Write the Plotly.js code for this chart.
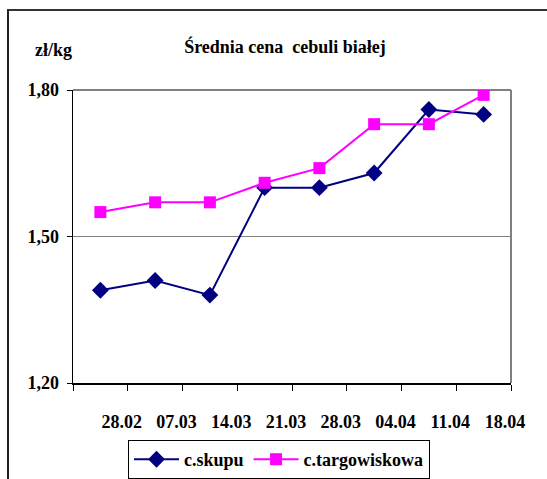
<!DOCTYPE html>
<html>
<head>
<meta charset="utf-8">
<script src="https://cdn.plot.ly/plotly-3.0.1.min.js"></script>
<style>
html,body{margin:0;padding:0;background:#fff;overflow:hidden;}
#wrap{position:relative;width:547px;height:479px;}
#frame{position:absolute;left:7px;top:9px;width:600px;height:600px;border-left:2px solid #222;border-top:2px solid #333;pointer-events:none;}
#chart{position:absolute;left:0;top:0;width:547px;height:479px;}
#preload{position:absolute;left:0;top:0;color:#fff;font-family:'Liberation Serif';font-weight:bold;font-size:18px;}
</style>
</head>
<body>
<div id="wrap"><div id="preload">Średnia zł/kg 28.02 1,80</div><div id="chart"></div><div id="frame"></div></div>
<script>
var categories = ['28.02','07.03','14.03','21.03','28.03','04.04','11.04','18.04'];
var skupu = [1.39, 1.41, 1.38, 1.60, 1.60, 1.63, 1.76, 1.75];
var targowiskowa = [1.55, 1.57, 1.57, 1.61, 1.64, 1.73, 1.73, 1.79];
var yTicks = [1.20, 1.50, 1.80];
var yTickText = ['1,20', '1,50', '1,80'];

function bold(s){ return s ? '<b>' + s + '</b>' : ''; }
var xPos = categories.map(function(c, i){ return i + 0.5; });
var boundaries = [0].concat(categories.map(function(c, i){ return i + 1; }));
var boundaryText = [''].concat(categories).map(bold);

var F = 'Liberation Serif';
var L = 73, R = 511, T = 90, B = 383, W = 547, H = 479;
function px(x){ return (x - L) / (R - L); }
function py(y){ return (B - y) / (B - T); }

var traces = [
  {x: xPos, y: skupu, name: bold('c.skupu'), type: 'scatter', mode: 'lines+markers',
   line: {color: '#000080', width: 2}, marker: {symbol: 'diamond', size: 13, color: '#000080'}},
  {x: xPos, y: targowiskowa, name: bold('c.targowiskowa'), type: 'scatter', mode: 'lines+markers',
   line: {color: '#FF00FF', width: 2}, marker: {symbol: 'square', size: 12, color: '#FF00FF'}}
];

var layout = {
  width: W, height: H,
  margin: {l: L, r: W - R, t: T, b: H - B, pad: 0, autoexpand: false},
  paper_bgcolor: 'rgba(0,0,0,0)', plot_bgcolor: '#fff',
  showlegend: true,
  font: {family: F, color: '#000', size: 18},
  title: {text: '<b>Średnia cena \u00a0cebuli białej</b>', font: {family: F, size: 18, color: '#000'},
          x: px(285), xref: 'paper', xanchor: 'center', y: 1 - 47 / H, yanchor: 'middle'},
  xaxis: {type: 'linear', range: [0, 8], tickvals: boundaries, ticktext: boundaryText,
          ticks: 'outside', ticklen: 6, tickcolor: '#000', tickwidth: 1,
          showline: true, linecolor: '#000', linewidth: 1.5, showgrid: false, zeroline: false,
          tickfont: {family: F, size: 18, color: '#000'},
          ticklabelshift: -6, ticklabelstandoff: 16, fixedrange: true},
  yaxis: {range: [1.20, 1.80], tickvals: yTicks, ticktext: yTickText.map(bold),
          ticks: 'outside', ticklen: 5, tickcolor: '#000', tickwidth: 1,
          showline: true, linecolor: '#000', linewidth: 1.5,
          showgrid: true, gridcolor: '#808080', gridwidth: 1.5, zeroline: false,
          tickfont: {family: F, size: 18, color: '#000'},
          ticklabelstandoff: 4, fixedrange: true},
  shapes: [
    {type: 'line', xref: 'paper', yref: 'paper', x0: 1, x1: 1, y0: 0, y1: 1,
     line: {color: '#808080', width: 2}, layer: 'below'},
    {type: 'line', xref: 'paper', yref: 'paper', x0: 0, x1: 1, y0: 1, y1: 1,
     line: {color: '#808080', width: 2}, layer: 'below'}
  ],
  annotations: [
    {text: '<b>zł/kg</b>', xref: 'paper', yref: 'paper', x: px(53), y: py(50),
     xanchor: 'center', yanchor: 'middle', showarrow: false,
     font: {family: F, size: 18, color: '#000'}}
  ],
  legend: {orientation: 'h', x: px(128), y: py(440), xanchor: 'left', yanchor: 'top',
           bgcolor: '#fff', bordercolor: '#000', borderwidth: 1, itemwidth: 45,
           font: {family: F, size: 18, color: '#000'}}
};

function draw(){ Plotly.newPlot('chart', traces, layout, {displayModeBar: false, staticPlot: true}); }
if (document.fonts && document.fonts.load) {
  Promise.all([document.fonts.load('bold 18px "Liberation Serif"'), document.fonts.load('18px "Liberation Serif"')])
    .then(draw, draw);
} else { draw(); }
</script>
</body>
</html>
